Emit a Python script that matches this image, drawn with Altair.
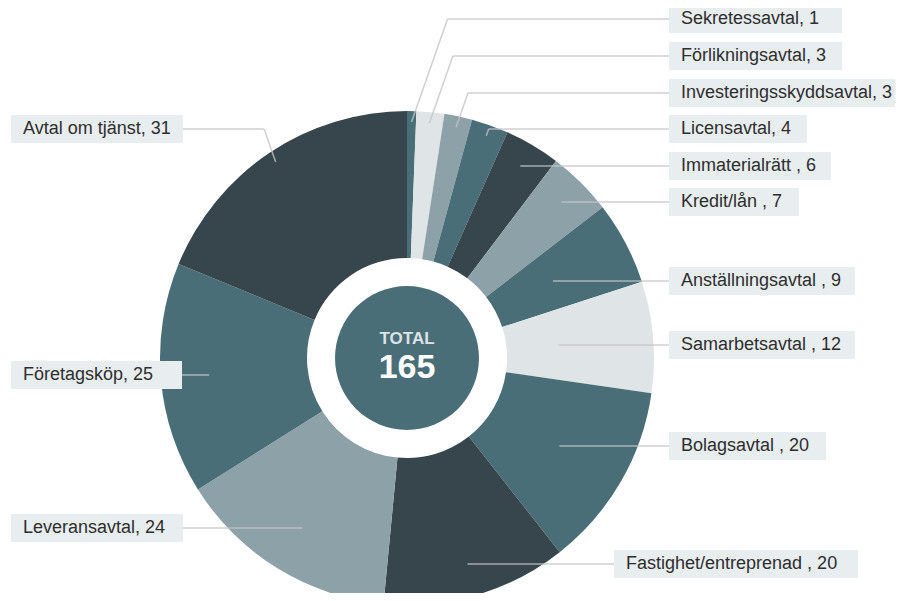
import math
import altair as alt
import pandas as pd

# ---- data ----
categories = ["Sekretessavtal", "Förlikningsavtal", "Investeringsskyddsavtal", "Licensavtal",
              "Immaterialrätt", "Kredit/lån", "Anställningsavtal", "Samarbetsavtal",
              "Bolagsavtal", "Fastighet/entreprenad", "Leveransavtal", "Företagsköp",
              "Avtal om tjänst"]
values = [1, 3, 3, 4, 6, 7, 9, 12, 20, 20, 24, 25, 31]
separators = [", ", ", ", ", ", ", ", " , ", " , ", " , ", " , ", " , ", " , ", ", ", ", ", ", "]
center_title = "TOTAL"

# ---- style ----
palette = ["#4a6e78", "#dfe4e7", "#8da2a8", "#4a6e78", "#36464c", "#8da2a8", "#4a6e78",
           "#dfe4e7", "#4a6e78", "#36464c", "#8da2a8", "#4a6e78", "#36464c"]

# ---- layout (page pixel positions of callouts) ----
label_side = ["R"] * 10 + ["L"] * 3
label_y = [19, 56, 93, 129, 166, 202, 281, 345, 446, 564, 528, 375, 129]
box_x = [669] * 9 + [614] + [11, 11, 11]
box_w = [173, 173, 233, 138, 162, 130, 186, 186, 157, 244, 172, 171, 172]

W, H = 887, 585
CX, CY = 407, 358
R_OUT, R_IN, R_CORE = 247, 100, 72
R_LEAD = 236
R_HMAX = 240
FONT = "Liberation Sans"

df = pd.DataFrame({
    "idx": list(range(len(categories))),
    "category": categories,
    "value": values,
    "sep": separators,
    "side": label_side,
    "ly": label_y,
    "bx0": box_x,
    "bw": box_w,
})

xs = alt.Scale(domain=[8, 8 + W], zero=False, nice=False)
ys = alt.Scale(domain=[8, 8 + H], zero=False, nice=False, reverse=True)

base = (
    alt.Chart(df)
    .transform_joinaggregate(total="sum(value)")
    .transform_window(cum="sum(value)", sort=[alt.SortField("idx")], frame=[None, 0])
    .transform_calculate(
        cx=str(CX),
        cy=str(CY),
        mid="(datum.cum - datum.value/2) / datum.total * 2 * PI",
        label="datum.category + datum.sep + datum.value",
    )
    .transform_calculate(
        rh=f"abs(datum.ly - {CY}) / max(abs(cos(datum.mid)), 0.000001)",
        sgn="datum.side == 'R' ? 1 : -1",
        bx1="datum.bx0 + datum.bw",
        tx="datum.bx0 + 12",
        by0="datum.ly - 14",
        by1="datum.ly + 14",
    )
    .transform_calculate(
        horiz=f"datum.rh <= {R_HMAX}",
    )
    .transform_calculate(
        sx=f"datum.horiz ? {CX} + datum.rh * sin(datum.mid) : {CX} + {R_LEAD} * sin(datum.mid)",
        sy=f"datum.horiz ? datum.ly : {CY} - {R_LEAD} * cos(datum.mid)",
    )
    .transform_calculate(
        ex="datum.horiz ? datum.sx : datum.sx + datum.sgn * abs(datum.ly - datum.sy) * 0.35",
        bxe="datum.side == 'R' ? datum.bx0 : datum.bx1",
    )
)

pie = base.mark_arc(outerRadius=R_OUT, innerRadius=R_IN).encode(
    x=alt.X("cx:Q", scale=xs, axis=None),
    y=alt.Y("cy:Q", scale=ys, axis=None),
    theta=alt.Theta("value:Q", stack=True),
    order=alt.Order("idx:Q"),
    color=alt.Color("category:N", scale=alt.Scale(domain=categories, range=palette), legend=None),
)

core_base = (
    alt.Chart(df)
    .transform_aggregate(total="sum(value)")
    .transform_calculate(cx=str(CX), cy=str(CY), ty1=str(CY - 19), ty2=str(CY + 10),
                         title=f"'{center_title}'")
)
core = core_base.mark_arc(radius=R_CORE, theta=0, theta2=2 * math.pi, color="#4a6e78").encode(
    x=alt.X("cx:Q", scale=xs, axis=None),
    y=alt.Y("cy:Q", scale=ys, axis=None),
)
core_t1 = core_base.mark_text(font=FONT, fontSize=17, fontWeight="bold", color="#dce3e6",
                              baseline="middle", align="center").encode(
    x=alt.X("cx:Q", scale=xs, axis=None),
    y=alt.Y("ty1:Q", scale=ys, axis=None),
    text="title:N",
)
core_t2 = core_base.mark_text(font=FONT, fontSize=34, fontWeight="bold", color="#ffffff",
                              baseline="middle", align="center").encode(
    x=alt.X("cx:Q", scale=xs, axis=None),
    y=alt.Y("ty2:Q", scale=ys, axis=None),
    text="total:Q",
)

lead1 = base.mark_rule(color="#c4c4c4", strokeWidth=1.5, opacity=0.8).encode(
    x=alt.X("sx:Q", scale=xs, axis=None),
    y=alt.Y("sy:Q", scale=ys, axis=None),
    x2="ex:Q",
    y2="ly:Q",
)
lead2 = base.mark_rule(color="#c4c4c4", strokeWidth=1.5, opacity=0.8).encode(
    x=alt.X("ex:Q", scale=xs, axis=None),
    y=alt.Y("ly:Q", scale=ys, axis=None),
    x2="bxe:Q",
    y2="ly:Q",
)

boxes = base.mark_rect(color="#e8edf0").encode(
    x=alt.X("bx0:Q", scale=xs, axis=None),
    x2="bx1:Q",
    y=alt.Y("by0:Q", scale=ys, axis=None),
    y2="by1:Q",
)
texts = base.mark_text(font=FONT, fontSize=18, color="#2e2e2e", align="left",
                       baseline="middle").encode(
    x=alt.X("tx:Q", scale=xs, axis=None),
    y=alt.Y("ly:Q", scale=ys, axis=None),
    text="label:N",
)

chart = (
    alt.layer(pie, lead1, lead2, core, core_t1, core_t2, boxes, texts)
    .properties(width=W, height=H, autosize=alt.AutoSizeParams(type="none"), padding=0,
                background="#ffffff")
    .configure_view(stroke=None)
)

chart.save("out.html", embed_options={"renderer": "svg", "actions": False})
